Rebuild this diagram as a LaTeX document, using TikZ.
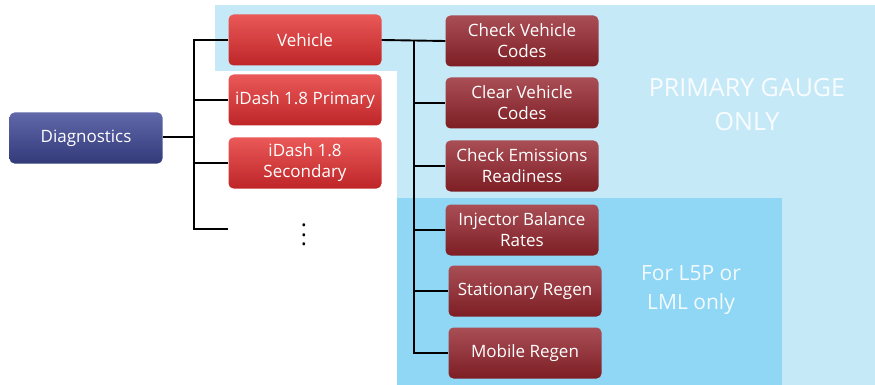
\documentclass[tikz,border=0pt]{standalone}
\usepackage{fontspec}
\setmainfont{Open Sans}
\usetikzlibrary{positioning}
\definecolor{paleblue}{RGB}{198,233,248}
\definecolor{skyblue}{RGB}{143,215,245}
\tikzset{
  box/.style={rounded corners=5pt, minimum width=153pt, minimum height=51pt,
    inner sep=2pt, align=center, text=white,
    font=\fontsize{17}{21}\selectfont},
  diagbox/.style={box, top color={rgb,255:red,96;green,104;blue,170}, bottom color={rgb,255:red,50;green,58;blue,122}},
  catbox/.style={box, top color={rgb,255:red,234;green,88;blue,88}, bottom color={rgb,255:red,190;green,38;blue,40}},
  itembox/.style={box, top color={rgb,255:red,170;green,78;blue,86}, bottom color={rgb,255:red,124;green,30;blue,36}},
  link/.style={line width=1.9pt, black},
  note/.style={text=white, text opacity=0.9, align=center}
}
\begin{document}
\begin{tikzpicture}[x=1pt,y=-1pt]
  \useasboundingbox (0,0) rectangle (875,385);
  % panels
  \fill[paleblue] (215,5) rectangle (875,71);
  \fill[paleblue] (397,5) rectangle (875,385);
  \fill[skyblue] (397,198) rectangle (782,385);
  \node[note, font=\fontsize{25}{34}\selectfont] (primary) at (747,105) {PRIMARY GAUGE\\ONLY};
  \node[note, font=\fontsize{21}{29}\selectfont] (lml) at (691,290) {For L5P or\\LML only};
  % boxes
  \draw
    (86,138) node[diagbox] (diag){Diagnostics}
    (305,40) node[catbox] (veh){Vehicle}
    (305,100) node[catbox] (prim){iDash 1.8 Primary}
    (305,163) node[catbox] (sec){iDash 1.8\\Secondary}
    (304,228) node[inner sep=0pt] (more){\scalebox{2.3}{$\vdots$}}
    (522,41) node[itembox] (cvc){Check Vehicle\\Codes}
    (522,103) node[itembox] (clr){Clear Vehicle\\Codes}
    (522,166) node[itembox] (emis){Check Emissions\\Readiness}
    (522,230) node[itembox] (inj){Injector Balance\\Rates}
    (525,291) node[itembox] (stat){Stationary Regen}
    (525,353) node[itembox] (mob){Mobile Regen};
  \coordinate (lbus) at (194,137);
  \coordinate (moreend) at (228,229);
  \coordinate (rbus) at (414,41);
  \begin{scope}[link]
    \draw (diag.east |- lbus) -- (lbus);
    \draw (veh.west) -| (lbus) |- (moreend);
    \draw (lbus) |- (prim.west);
    \draw (lbus) |- (sec.west);
    \draw (veh.east) -- (cvc.west);
    \draw (rbus) |- (mob.west);
    \draw (rbus) |- (clr.west);
    \draw (rbus) |- (emis.west);
    \draw (rbus) |- (inj.west);
    \draw (rbus) |- (stat.west);
  \end{scope}
\end{tikzpicture}
\end{document}
